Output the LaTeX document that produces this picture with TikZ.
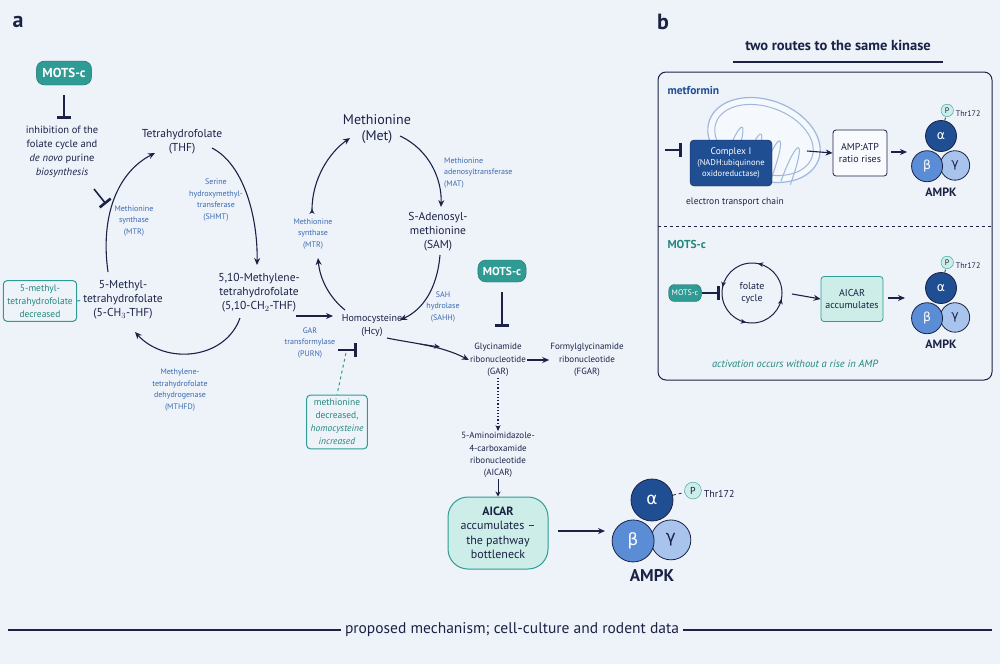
\documentclass[tikz,border=0pt]{standalone}
\usepackage{fontspec}
\setmainfont{PT Sans}
\newfontfamily\grk{DejaVu Sans}
\usetikzlibrary{arrows.meta,shapes.geometric,calc}
\definecolor{bg}{HTML}{EEF3FA}
\definecolor{navy}{HTML}{1B2245}
\definecolor{enz}{HTML}{3B69AE}
\definecolor{teal}{HTML}{2E9C94}
\definecolor{ltteal}{HTML}{CDEDE8}
\definecolor{gtext}{HTML}{22877C}
\definecolor{adark}{HTML}{1F4E93}
\definecolor{amid}{HTML}{5B8DD6}
\definecolor{alight}{HTML}{A9C4EC}
\definecolor{mito}{HTML}{9DB8DC}
\tikzset{
  x=1pt,y=-1pt,
  met/.style={font=\fontsize{11.5}{14}\selectfont,text=navy,align=center,inner sep=1pt},
  bigmet/.style={font=\fontsize{14}{16.5}\selectfont,text=navy,align=center,inner sep=1pt},
  small/.style={font=\fontsize{9}{12.3}\selectfont,text=navy,align=center,inner sep=1pt},
  enzl/.style={font=\fontsize{8}{11.5}\selectfont,text=enz,align=center,inner sep=1pt},
  arr/.style={navy,line width=1.1pt,-{Stealth[length=7pt,width=6pt]}},
  inh/.style={navy,line width=1.6pt,-{Bar[width=14pt,line width=2.6pt]}},
  pill/.style={rounded corners=8pt,fill=teal,draw=teal!70!black,text=white,font=\bfseries\fontsize{13}{15}\selectfont,minimum height=24pt,inner xsep=6pt},
  gbox/.style={draw=teal,line width=1pt,rounded corners=4pt,text=gtext,align=center,font=\fontsize{9.5}{13}\selectfont,inner sep=4pt},
  sub/.style={circle,draw=navy,line width=0.8pt,text=white,inner sep=0pt},
}
\newcommand{\ampk}[8]{% x y radius prefix smallfont labelfont pdx pdy
  \pgfmathsetmacro{\dA}{2*#3}\pgfmathsetmacro{\dG}{1.9*#3}\pgfmathsetmacro{\dP}{0.8*#3}
  \pgfmathsetmacro{\gf}{0.8*#3}
  \node[sub,fill=adark,minimum size=\dA pt,font=\grk\fontsize{\gf}{\gf}\selectfont] (#4a) at (#1,#2) {α};
  \node[sub,fill=alight,text=navy,minimum size=\dG pt,font=\grk\fontsize{\gf}{\gf}\selectfont] (#4g) at (#1+#3*0.9,#2+#3*1.9) {γ};
  \node[sub,fill=amid,minimum size=\dA pt,font=\grk\fontsize{\gf}{\gf}\selectfont] (#4b) at (#1-#3*0.9,#2+#3*1.95) {β};
  \node[circle,draw=teal,fill=ltteal,text=navy,minimum size=\dP pt,inner sep=0pt,font=\fontsize{#5}{#5}\selectfont] (#4p) at (#1+#3*#7,#2+#3*#8) {P};
  \draw[navy,dashed,line width=0.8pt] (#4a) -- (#4p);
  \node[anchor=west,font=\fontsize{#5}{#5}\selectfont,text=navy,inner sep=1pt] at ([xshift=1pt,yshift=-3pt]#4p.east) {Thr172};
  \node[font=\bfseries\fontsize{#6}{#6}\selectfont,text=navy] (#4l) at (#1,#2+#3*3.6) {AMPK};
}
\begin{document}
\begin{tikzpicture}
\fill[bg] (0,0) rectangle (1000,664);
\useasboundingbox (0,0) rectangle (1000,664);

\node[font=\bfseries\fontsize{22}{22}\selectfont,text=navy] (la) at (18,22) {a};
\node[font=\bfseries\fontsize{22}{22}\selectfont,text=navy] (lb) at (663,22) {b};

% ---- panel a ----
\node[pill] (mots1) at (64,73) {MOTS-c};
\node[small,font=\fontsize{10.5}{14}\selectfont] (inhtxt) at (62,152) {inhibition of the\\folate cycle and\\\textit{de novo} purine\\\textit{biosynthesis}};
\coordinate (m1s) at (64,95);
\draw[inh] (m1s) -- (64,119);
\coordinate (i1a) at (94,189); \coordinate (i1b) at (106,204);
\draw[inh] (i1a) -- (i1b);

\node[met] (thf) at (182,142) {Tetrahydrofolate\\(THF)};
\node[met] (mthf) at (123,300) {5-Methyl-\\tetrahydrofolate\\(5-CH$_3$-THF)};
\node[met] (mlthf) at (259,293) {5,10-Methylene-\\tetrahydrofolate\\(5,10-CH$_2$-THF)};
\node[enzl] (e1) at (134,221) {Methionine\\synthase\\(MTR)};
\node[enzl] (e2) at (216,200) {Serine\\hydroxymethyl-\\transferase\\(SHMT)};
\node[enzl] (e3) at (180,390) {Methylene-\\tetrahydrofolate\\dehydrogenase\\(MTHFD)};
\coordinate (f1) at (108,272); \coordinate (f2) at (155,153);
\coordinate (f3) at (212,148); \coordinate (f4) at (257,265);
\coordinate (f5) at (240,318); \coordinate (f6) at (135,332);
\draw[arr] (f1) .. controls (100,215) and (118,172) .. (f2);
\draw[arr] (f3) .. controls (245,165) and (258,220) .. (f4);
\draw[arr] (f5) .. controls (225,360) and (165,365) .. (f6);

\node[gbox] (mbox) at (40,301) {5-methyl-\\tetrahydrofolate\\decreased};
\draw[teal,dashed,line width=1pt] (mbox.east) -- (mthf.west);

\node[bigmet] (met) at (377,129) {Methionine\\(Met)};
\node[met] (sam) at (438,232) {S-Adenosyl-\\methionine\\(SAM)};
\node[met,font=\fontsize{10}{13}\selectfont] (hcy) at (372,326) {Homocysteine\\(Hcy)};
\node[enzl] (e4) at (313,234) {Methionine\\synthase\\(MTR)};
\node[enzl,align=left,anchor=west] (e5) at (443,173) {Methionine\\adenosyltransferase\\(MAT)};
\node[enzl] (e6) at (443,307) {SAH\\hydrolase\\(SAHH)};
\node[enzl] (e7) at (310,343) {GAR\\transformylase\\(PURN)};
\coordinate (c1) at (345,310); \coordinate (c2) at (318,258);
\coordinate (c3) at (312,214); \coordinate (c4) at (350,138);
\coordinate (c5) at (400,136); \coordinate (c6) at (441,207);
\coordinate (c7) at (440,255); \coordinate (c8) at (400,320);
\draw[arr] (c1) .. controls (330,298) and (320,280) .. (c2);
\draw[arr,{Stealth[length=5pt,width=5pt,reversed]}-{Stealth[length=7pt,width=6pt]}] (c3) .. controls (312,178) and (330,152) .. (c4);
\draw[arr] (c5) .. controls (430,150) and (442,180) .. (c6);
\draw[arr] (c7) .. controls (437,290) and (422,310) .. (c8);
\coordinate (a1) at (296,316); \coordinate (a2) at (333,316);
\draw[arr] (a1) -- (a2);

\coordinate (p1) at (338,350); \coordinate (p2) at (357,350);
\draw[inh] (p1) -- (p2);
\node[gbox] (hbox) at (337,422) {methionine\\decreased,\\\textit{homocysteine}\\\textit{increased}};
\draw[teal,dashed,line width=1pt] (346,353) -- (hbox.north);

\node[pill,font=\bfseries\fontsize{11.5}{13}\selectfont,minimum height=22pt,inner xsep=5pt] (mots2) at (502,271) {MOTS-c};
\coordinate (m2s) at (502,292);
\draw[inh] (m2s) -- (502,327);

\node[small] (gar) at (498,360) {Glycinamide\\ribonucleotide\\(GAR)};
\node[small] (fgar) at (587,360) {Formylglycinamide\\ribonucleotide\\(FGAR)};
\draw[arr] (387,338) .. controls (410,343) and (440,345) .. (gar.west);
\draw[navy,line width=1pt,-{Stealth[length=6pt,width=5pt]}] (420,344) -- (440,347);
\draw[arr] (gar.east) -- (fgar.west);
\node[small] (aicar) at (498,455) {5-Aminoimidazole-\\4-carboxamide\\ribonucleotide\\(AICAR)};
\draw[navy,line width=1.2pt,dotted,-{Stealth[length=6pt,width=5pt]}] (gar.south) -- (aicar.north);
\node[draw=teal,fill=ltteal,line width=1pt,rounded corners=20pt,minimum width=100pt,minimum height=72pt,align=center,text=navy,font=\fontsize{12}{14.5}\selectfont] (abox) at (498,533) {\textbf{AICAR}\\accumulates –\\the pathway\\bottleneck};
\draw[navy,line width=1pt,-{Stealth[length=5pt,width=5pt]}] (aicar.south) -- (abox.north);
\ampk{652}{500}{21}{A}{10}{17}{1.95}{-0.45}
\coordinate (a3) at (558,531); \coordinate (a4) at (605,531);
\draw[arr] (a3) -- (a4);

\node[font=\fontsize{15.5}{15}\selectfont,text=navy] (bt) at (512,630) {proposed mechanism; cell-culture and rodent data};
\draw[navy,line width=1.3pt] (8,630) -- (bt.west);
\draw[navy,line width=1.3pt] (bt.east) -- (992,630);

% ---- panel b ----
\node[font=\bfseries\fontsize{14.5}{14}\selectfont,text=navy] (btitle) at (838,45) {two routes to the same kinase};
\draw[navy,line width=1.3pt] (733,62) -- (943,62);
\draw[navy,line width=1pt,rounded corners=8pt] (658,72) rectangle (992,380);
\draw[navy,dashed,line width=1pt] (658,226) -- (992,226);
\node[anchor=west,font=\bfseries\fontsize{11.5}{11}\selectfont,text=adark] (metf) at (664,90) {metformin};
% mitochondrion
\begin{scope}[rotate around={-20:(764,140)}]
\draw[mito,line width=1.2pt,fill=bg!60!white] (764,140) ellipse (58 and 40);
\draw[mito,line width=1pt] (764,140) ellipse (51 and 33);
\foreach \xx in {734,754,774,794}{
  \draw[mito,line width=1pt] (\xx,173) .. controls (\xx,123) and (\xx+10,123) .. (\xx+10,173);
}
\end{scope}
\node[draw=navy,fill=adark,rounded corners=4pt,text=white,minimum width=82pt,minimum height=46pt,align=center,font=\fontsize{8.5}{11}\selectfont] (cx1) at (731,163) {\fontsize{9.5}{11}\selectfont Complex I\\(NADH:ubiquinone\\oxidoreductase)};
\coordinate (i2a) at (665,150); \coordinate (i2b) at (682,150);
\draw[inh] (i2a) -- (i2b);
\node[font=\fontsize{9.5}{9}\selectfont,text=navy] (etc) at (735,202) {electron transport chain};
\node[draw=navy,line width=0.8pt,rounded corners=3pt,fill=white!60!bg,minimum width=54pt,minimum height=46pt,align=center,text=navy,font=\fontsize{10}{12}\selectfont] (amp) at (860,153) {AMP:ATP\\ratio rises};
\draw[arr] (807,151) -- (amp.west);
\ampk{941}{136}{15.5}{B}{8}{12}{0.4}{-1.65}
\coordinate (a5) at (891,152); \coordinate (a6) at (907,152);
\draw[arr] (a5) -- (a6);

\node[anchor=west,font=\bfseries\fontsize{11.5}{11}\selectfont,text=gtext] (motl) at (664,244) {MOTS-c};
\node[pill,font=\fontsize{8}{9}\selectfont,minimum height=17pt,inner xsep=3pt,rounded corners=6pt] (mots3) at (685,293) {MOTS-c};
\node[circle,minimum size=60pt,align=center,text=navy,font=\fontsize{10}{12}\selectfont] (fc) at (752,293) {folate\\cycle};
\draw[navy,line width=1pt] (fc.center) circle (30);
\foreach \a in {20,110,200,290}{
  \draw[navy,line width=1pt,-{Stealth[length=5pt,width=5pt]}] ($(752,293)+(\a:30)$) arc[start angle=\a,end angle=\a-8,radius=30];
}
\draw[inh,line width=1.3pt] (mots3.east) -- (720,293);
\node[draw=teal,fill=ltteal,line width=0.8pt,rounded corners=3pt,minimum width=62pt,minimum height=45pt,align=center,text=navy,font=\fontsize{10}{12}\selectfont] (aic2) at (852,299) {AICAR\\accumulates};
\draw[arr] (792,294) -- (aic2.west);
\ampk{941}{288}{15.5}{C}{8}{12}{0.4}{-1.65}
\coordinate (a7) at (888,298); \coordinate (a8) at (905,298);
\draw[arr] (a7) -- (a8);
\node[font=\itshape\fontsize{10.5}{10}\selectfont,text=gtext] (actv) at (795,364) {activation occurs without a rise in AMP};
\end{tikzpicture}
\end{document}
